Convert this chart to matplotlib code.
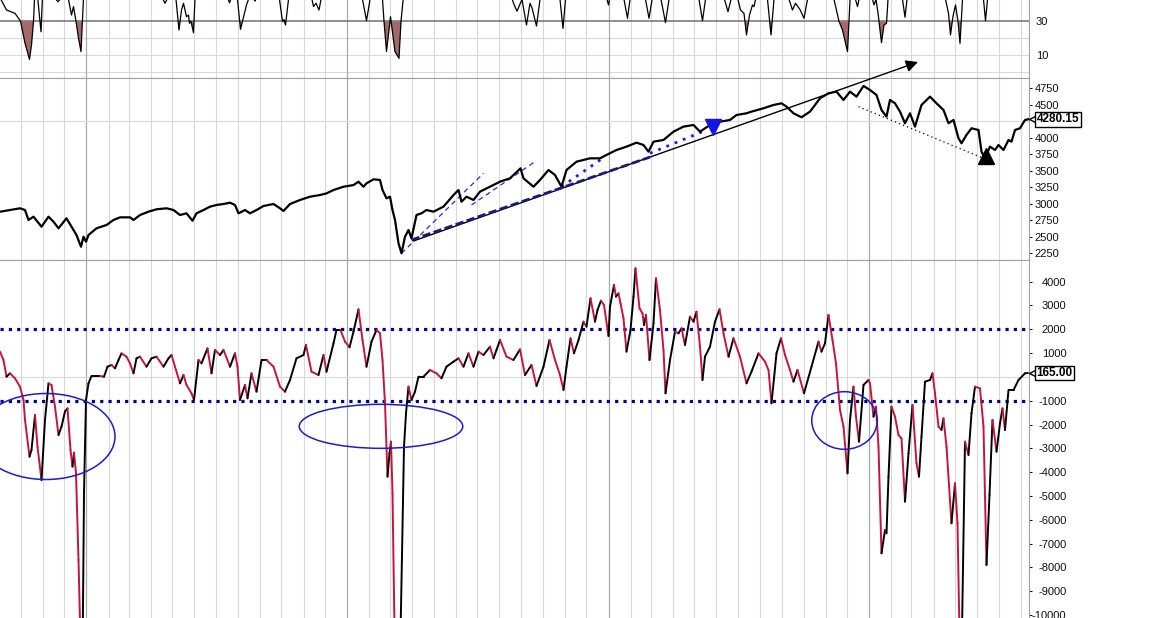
import numpy as np
import pandas as pd
import matplotlib
matplotlib.use("Agg")
import matplotlib.pyplot as plt
from matplotlib.collections import LineCollection
from matplotlib.patches import Ellipse

plt.rcParams['font.family'] = ['Liberation Sans', 'DejaVu Sans']

# x axis: weeks since 2018-09-02 (S&P 500, Sep 2018 - Aug 12 2022)
start_date = pd.Timestamp('2018-09-02')

# ---- top panel: oscillator with 30 line (values above ~43 run off the panel)
top_x = [0.0, 1.3, 3.0, 3.7, 4.1, 5.0, 5.9, 6.3, 6.7, 7.0, 7.5, 8.2, 8.5, 10.0, 11.2, 11.6, 12.0,
         12.8, 13.7, 14.3, 14.7, 15.2, 15.7, 16.2, 16.7, 20.0, 26.0, 32.0, 32.6, 33.0, 33.4, 34.4,
         35.2, 35.8, 36.3, 36.7, 37.3, 37.7, 37.9, 38.2, 38.7, 39.0, 42.0, 45.6, 45.9, 46.2, 47.5,
         48.1, 48.9, 49.3, 49.7, 50.4, 51.0, 51.4, 53.0, 55.9, 56.5, 56.8, 57.1, 57.7, 60.0, 62.4,
         62.7, 63.2, 63.8, 64.2, 68.0, 72.5, 73.3, 74.0, 75.2, 76.5, 76.8, 77.3, 78.1, 79.0, 79.8,
         80.2, 80.7, 86.0, 94.0, 101.0, 102.8, 103.4, 104.4, 105.3, 106.0, 106.4, 107.3, 108.0,
         110.0, 112.0, 112.6, 113.1, 116.0, 121.4, 121.7, 121.9, 124.8, 125.5, 126.0, 127.6, 129.1,
         129.8, 130.4, 131.4, 132.2, 133.1, 133.8, 137.0, 139.8, 140.5, 141.1, 143.0, 144.9, 145.6,
         146.2, 146.9, 147.6, 148.1, 148.8, 149.3, 149.9, 150.5, 150.8, 151.1, 152.4, 153.5, 154.2,
         154.8, 157.0, 157.8, 158.5, 159.1, 160.0, 160.8, 161.5, 164.0, 166.8, 167.8, 168.5, 169.5,
         170.0, 170.5, 171.1, 171.5, 171.8, 173.0, 174.5, 174.8, 175.2, 175.6, 176.3, 176.8, 177.3,
         177.6, 179.2, 180.5, 181.0, 181.4, 185.0, 189.1, 189.7, 190.1, 190.6, 191.1, 191.6, 192.0,
         192.5, 195.0, 196.7, 197.1, 197.5, 200.0, 205.6]
top_v = [44, 36.7, 34.7, 31.8, 30, 17, 7.4, 16, 30, 50, 45, 23.8, 45, 55, 43, 41.6, 43,
         55, 43, 33.7, 38.7, 30, 20, 12.0, 44, 60, 58, 50, 43, 40.7, 43, 50,
         43, 24.8, 36.7, 40.7, 32.7, 33.7, 28.8, 30, 23.2, 44, 55, 43.5, 41, 43.5, 43,
         25.2, 34.7, 39.7, 43, 48, 42, 48, 55, 43, 29.8, 31, 27.8, 43, 55, 43,
         38.7, 40.7, 36.7, 43, 55, 43, 30.4, 43, 55, 43, 30, 12.0, 32.7, 12, 8.0,
         30, 45, 58, 58, 55, 40, 36, 43, 27.8, 40.7, 38, 27.2, 43,
         55, 43, 25.8, 43, 55, 43, 39.7, 43, 43, 31.8, 43, 50, 43,
         31.8, 43, 50, 43, 29.2, 43, 55, 43, 30.4, 43, 55, 43, 35.7,
         43, 50, 43, 36.7, 34.7, 21.9, 33.7, 39.7, 38.7, 43, 50, 43, 21.9,
         43, 50, 43, 36.7, 40.7, 37, 31.8, 43, 55, 43, 30, 24.8, 12.0,
         43, 50, 43, 38.7, 43, 50, 43, 39.7, 43, 35, 17.3, 27.8, 28.8,
         43, 50, 43, 32.4, 43, 55, 43, 34.7, 21.9, 33, 39.7, 30, 16.9,
         43, 55, 43, 30.4, 43, 55, 55]

# ---- middle panel: price
price_x = [0.0, 2.0, 4.0, 5.0, 5.7, 6.7, 8.3, 9.7, 10.7, 11.7, 13.3, 14.3, 15.3, 16.2, 16.7, 17.2,
           17.7, 19.3, 21.3, 22.7, 24.0, 26.0, 26.7, 28.0, 29.7, 31.3, 33.3, 34.7, 36.0, 37.3,
           38.5, 39.3, 40.7, 42.0, 43.3, 44.7, 46.0, 47.0, 47.7, 49.0, 50.0, 51.3, 52.7, 54.7,
           56.0, 56.7, 58.0, 60.0, 62.0, 64.0, 65.3, 66.7, 68.7, 70.7, 71.7, 72.7, 73.3, 74.7,
           76.0, 76.5, 77.3, 78.0, 78.5, 79.0, 79.7, 80.3, 81.0, 81.7, 82.3, 83.3, 84.3, 85.3,
           86.7, 88.7, 90.7, 91.7, 92.3, 93.3, 94.7, 96.0, 98.0, 100.0, 102.0, 104.1, 104.7,
           106.7, 108.0, 109.7, 111.0, 112.3, 113.3, 115.3, 118.0, 120.0, 121.3, 123.3, 125.3,
           127.3, 128.7, 129.7, 130.7, 132.7, 134.7, 136.7, 138.7, 140.0, 142.0, 144.0, 146.0,
           147.3, 149.3, 150.3, 152.7, 154.7, 156.3, 157.3, 158.7, 160.3, 162.0, 164.0, 165.7,
           167.3, 168.7, 170.0, 171.3, 172.7, 174.0, 175.3, 176.3, 177.3, 178.0, 179.0, 180.0,
           181.0, 182.0, 183.0, 184.3, 186.0, 187.3, 188.7, 189.7, 190.7, 191.7, 192.3, 193.3,
           194.3, 195.7, 196.3, 197.0, 198.0, 199.0, 199.7, 200.7, 201.7, 202.3, 203.0, 204.0,
           205.0, 205.6]
price_v = [2880, 2906, 2932, 2906, 2755, 2805, 2653, 2805, 2729, 2629, 2780, 2655, 2527, 2350, 2502, 2426,
           2527, 2629, 2679, 2755, 2795, 2795, 2755, 2830, 2881, 2917, 2932, 2906, 2830, 2856,
           2744, 2856, 2906, 2957, 2982, 2997, 3017, 2982, 2856, 2906, 2856, 2906, 2967, 2997,
           2932, 2891, 2997, 3058, 3108, 3133, 3158, 3209, 3259, 3284, 3335, 3259, 3310, 3371,
           3361, 3209, 3083, 3108, 2906, 2755, 2402, 2250, 2502, 2603, 2477, 2830, 2856, 2906,
           2881, 2957, 3133, 3209, 3032, 3108, 3058, 3184, 3259, 3335, 3386, 3538, 3386,
           3259, 3361, 3512, 3436, 3259, 3512, 3638, 3689, 3689, 3740, 3815, 3866,
           3926, 3891, 3790, 3941, 3967, 4093, 4169, 4194, 4093, 4194, 4244, 4270,
           4345, 4371, 4396, 4447, 4497, 4522, 4472, 4371, 4311, 4396, 4598, 4674,
           4699, 4573, 4699, 4623, 4785, 4724, 4648, 4421, 4320, 4573, 4522, 4396,
           4220, 4371, 4169, 4497, 4623, 4522, 4421, 4220, 4270, 3993, 3917, 4043,
           4144, 4118, 3790, 3689, 3866, 3815, 3891, 3815, 3967, 3941, 4118, 4144,
           4270, 4280.15]
price_last = 4280.15
price_ticks = [2250, 2500, 2750, 3000, 3250, 3500, 3750, 4000, 4500, 4750]

# trend lines drawn on the price panel: (x0, y0, x1, y1)
main_arrow = (82.7, 2437, 183.6, 5148)
support_dash = (82.3, 2452, 130.0, 3708)
blue_dashed = [(80.3, 2250, 96.7, 3462), (94.3, 2982, 107.0, 3638)]
blue_dotted = [(112.3, 3259, 121.0, 3714), (130.0, 3765, 141.3, 4118)]
black_dotted = (171.7, 4471, 196.7, 3689)
blue_marker = (142.6, 4164)
black_marker = (197.2, 3724)

# ---- bottom panel: breadth oscillator
osc_x = [0.0, 0.7, 1.3, 2.0, 3.0, 4.0, 4.7, 5.0, 5.9, 6.3, 7.0, 7.5, 8.3, 9.0, 9.7, 10.3, 11.0, 11.7,
         12.3, 13.0, 13.5, 14.1, 14.5, 14.8, 15.2, 15.7, 16.2, 16.5, 16.8, 17.2, 17.7, 18.3, 20.0,
         20.8, 21.5, 22.3, 23.0, 23.7, 24.3, 25.3, 26.0, 26.7, 27.3, 28.0, 29.3, 30.3, 31.3, 32.7,
         33.7, 34.3, 35.0, 36.0, 36.7, 37.3, 38.3, 38.8, 39.7, 40.3, 41.5, 42.3, 43.0, 44.0, 44.7,
         46.0, 47.0, 47.5, 48.0, 49.0, 49.5, 50.3, 51.3, 52.3, 53.3, 54.7, 56.0, 57.0, 58.0, 59.3,
         60.7, 61.2, 62.3, 63.7, 64.7, 65.3, 66.7, 67.3, 68.1, 69.0, 69.9, 70.7, 71.7, 72.5, 73.3,
         74.3, 75.3, 76.0, 76.5, 77.0, 77.5, 77.9, 78.2, 78.5, 79.0, 80.0, 80.8, 81.2, 81.7, 82.3,
         83.0, 83.7, 84.7, 86.0, 87.3, 88.3, 89.3, 90.7, 91.7, 92.7, 93.7, 94.7, 95.7, 96.7, 98.0,
         98.7, 99.3, 100.0, 101.3, 102.7, 104.0, 105.0, 106.3, 107.3, 108.7, 109.9, 111.0, 112.0,
         112.7, 113.3, 114.1, 114.8, 115.7, 116.7, 117.3, 118.1, 119.0, 119.5, 120.2, 120.8, 121.7,
         122.0, 122.8, 123.2, 123.7, 124.1, 124.7, 125.3, 126.1, 126.7, 127.1, 127.9, 128.5, 128.8,
         129.2, 129.9, 130.7, 131.2, 132.0, 132.7, 133.1, 134.0, 135.0, 135.7, 136.3, 137.0, 138.0,
         138.7, 139.3, 140.0, 140.5, 141.0, 142.0, 143.0, 143.9, 144.7, 145.7, 146.7, 148.0, 149.3,
         150.3, 151.7, 153.0, 153.7, 154.3, 155.3, 156.2, 157.0, 158.0, 158.7, 159.5, 160.8, 162.3,
         163.7, 164.3, 165.0, 165.7, 166.5, 167.2, 168.0, 168.7, 169.5, 170.0, 170.7, 171.2, 171.8,
         172.7, 173.7, 174.0, 174.7, 175.2, 175.7, 176.3, 177.0, 177.3, 177.7, 178.3, 179.0, 179.7,
         180.3, 181.0, 181.7, 182.5, 183.3, 183.8, 184.3, 185.0, 186.0, 186.5, 187.0, 187.7, 188.3,
         188.7, 189.3, 190.3, 191.0, 191.5, 192.0, 192.3, 193.0, 193.7, 194.3, 195.0, 196.0, 196.7,
         197.3, 197.9, 198.5, 199.3, 200.0, 200.5, 201.0, 201.7, 202.7, 203.7, 205.0, 205.6]
osc_v = [1061, 711, 11, 151, -59, -409, -969, -1809, -3349, -3069, -1599, -2929, -4329, -1809, -269, -339, -1249, -2439,
         -2089, -1450, -1319, -3069, -3769, -3181, -4049, -7689, -12000, -12000, -4889, -969, -269, 39, 39,
         11, 431, 501, 361, 711, 991, 851, 571, 151, 781, 851, 431, 781, 851, 431,
         781, 921, 431, -269, 81, -339, -689, -969, 711, 571, 1201, 151, 1131, 921, 1131,
         431, 991, 431, -969, -339, -899, 151, -619, 711, 711, 431, -409, -619, -129, 781,
         921, 1341, 221, 81, 921, 221, 1411, 1971, 1971, 1481, 1243, 1901, 2839, 1551, 431,
         1481, 1971, 1831, 711, -1109, -4189, -3209, -2719, -4889, -12000, -12000, -2929, -1529, -409, -969,
         -619, 11, 11, 291, 151, -59, 431, 641, 781, 431, 991, 431, 1061, 921, 1271,
         781, 1131, 1551, 851, 711, 1159, 81, 501, -381, 431, 1551, 711, 81,
         -549, 431, 1621, 991, 1551, 2321, 2111, 3301, 2321, 2811, 3203, 3021, 1719,
         2951, 3861, 3371, 3511, 3091, 2461, 1061, 1971, 3371, 4561, 2881, 2671, 2181,
         2601, 711, 2251, 4141, 2811, 1131, -689, 711, 1901, 1831, 2041, 1341, 2531,
         2321, 2741, 1271, -129, 851, 1271, 2321, 2839, 1831, 851, 1621, 851, -269,
         221, 991, 641, 291, -1109, 991, 1621, 921, 291, -199, 291, -689, 431,
         1481, 1061, 1411, 2601, 1551, 571, -1389, -2089, -4049, -1809, -409, -1669, -2719,
         -339, -129, -269, -1669, -1249, -2929, -7409, -6429, -6569, -4189, -1249, -1669, -2439,
         -2579, -5239, -3209, -1179, -3629, -4189, -2509, -199, -129, 151, -689, -2089, -2229,
         -1739, -2929, -6149, -4469, -6149, -12000, -12000, -2719, -3279, -1529, -409, -479, -2089,
         -7899, -4959, -1809, -3139, -1949, -1319, -2229, -549, -549, -129, 151, 165]
osc_last = 165.00
osc_levels = [2000, -1000]
osc_ticks = [4000, 3000, 2000, 1000, -1000, -2000, -3000, -4000, -5000, -6000, -7000, -8000, -9000, -10000]
# circled zones: (centre x, centre y, width, height)
osc_circles = [(9.2, -2502, 27.6, 3612), (76.2, -2075, 32.7, 1848), (168.9, -1830, 13.1, 2419)]

# ---------------------------------------------------------------------------
GRID = '#d9d9d9'
YEAR = '#a9a9a9'
EDGE = '#a0a0a0'

fig = plt.figure(figsize=(11.6, 6.18), dpi=100)
W = 1029 / 1160
ax_top = fig.add_axes([0, 0.8733, W, 0.1267])
ax_mid = fig.add_axes([0, 0.5793, W, 0.2940])
ax_bot = fig.add_axes([0, 0.0, W, 0.5793])

months = pd.date_range('2018-10-01', '2022-08-01', freq='MS')
month_pos = [(d - start_date).days / 7.0 for d in months]
year_pos = [(d - start_date).days / 7.0 for d in months if d.month == 1]

for ax in (ax_top, ax_mid, ax_bot):
    ax.set_xlim(0, 1029 / 5)
    ax.set_xticks(year_pos)
    ax.set_xticks(month_pos, minor=True)
    ax.grid(axis='x', which='minor', color=GRID, lw=0.8, zorder=0)
    ax.grid(axis='x', which='major', color=YEAR, lw=0.9, zorder=0)
    ax.tick_params(axis='x', which='both', length=0, labelbottom=False)
    ax.yaxis.tick_right()
    ax.tick_params(axis='y', which='both', labelsize=8, colors='#111111', length=2)
    ax.spines['left'].set_visible(False)
    for s in ('top', 'bottom', 'right'):
        ax.spines[s].set_color(EDGE)
    ax.set_axisbelow(True)

# top panel
ax_top.set_ylim(-3.83, 42.64)
ax_top.spines['top'].set_visible(False)
for lv in (0, 10, 20):
    ax_top.axhline(lv, color=GRID, lw=0.8, zorder=0)
ax_top.axhline(30, color='#707070', lw=1.1, zorder=1)
ax_top.fill_between(top_x, top_v, 30, where=np.array(top_v) < 30, interpolate=True,
                    color='#a46a6a', lw=0, zorder=2)
ax_top.plot(top_x, top_v, color='black', lw=0.9, zorder=3)
ax_top.set_yticks([10, 30])
ax_top.tick_params(axis='y', length=0, pad=5)

# middle panel
ax_mid.set_ylim(2149, 4901)
ax_mid.set_yticks(np.arange(2250, 4751, 250), minor=True)
ax_mid.set_yticks(price_ticks)
ax_mid.grid(axis='y', which='minor', color=GRID, lw=0.8)
ax_mid.tick_params(axis='y', which='minor', length=0)
ax_mid.tick_params(axis='y', pad=2)
ax_mid.plot(price_x, price_v, color='black', lw=1.6, zorder=4)

for x0, y0, x1, y1 in blue_dashed:
    ax_mid.plot([x0, x1], [y0, y1], color='#2a2ae0', lw=0.9, ls=(0, (4, 3)), zorder=3)
for x0, y0, x1, y1 in blue_dotted:
    ax_mid.plot([x0, x1], [y0, y1], color='#1a1aff', lw=2.0, ls=(0, (1, 2.2)), zorder=3)
x0, y0, x1, y1 = black_dotted
ax_mid.plot([x0, x1], [y0, y1], color='black', lw=0.9, ls=(0, (1, 2.5)), zorder=3)
x0, y0, x1, y1 = main_arrow
arr = ax_mid.annotate('', xy=(x1, y1), xytext=(x0, y0), annotation_clip=False,
                      arrowprops=dict(arrowstyle='-|>', color='black', lw=1.0,
                                      mutation_scale=18, shrinkA=0, shrinkB=0), zorder=5)
arr.arrow_patch.set_clip_on(False)
x0, y0, x1, y1 = support_dash
ax_mid.plot([x0, x1], [y0, y1], color='#1a1a7a', lw=2.0, ls=(0, (3, 1.2)), zorder=5)
ax_mid.plot(*blue_marker, marker='v', ms=11, color='#1414e6', zorder=6)
ax_mid.plot(*black_marker, marker='^', ms=11, color='black', zorder=6)

# bottom panel
ax_bot.set_ylim(-10125, 4911)
ax_bot.spines['bottom'].set_visible(False)
ax_bot.set_yticks(np.arange(-10000, 4001, 1000), minor=True)
ax_bot.set_yticks(osc_ticks)
ax_bot.set_yticklabels([str(t) for t in osc_ticks])
for lbl in ax_bot.get_yticklabels():
    lbl.set_horizontalalignment('right')
ax_bot.tick_params(axis='y', pad=25)
ax_bot.tick_params(axis='y', which='minor', length=0)
ax_bot.grid(axis='y', which='minor', color=GRID, lw=0.8)
for lv in osc_levels:
    ax_bot.axhline(lv, color='#00008b', lw=2.3, ls=(0, (1, 1.6)), zorder=2)

pts = np.column_stack([osc_x, osc_v])
segs = np.stack([pts[:-1], pts[1:]], axis=1)
cols = ['#c8143c' if b < a else 'black' for a, b in zip(osc_v[:-1], osc_v[1:])]
ax_bot.add_collection(LineCollection(segs, colors=cols, linewidths=1.4,
                                     capstyle='round', joinstyle='round', zorder=4))
for cx, cy, w, h in osc_circles:
    ax_bot.add_patch(Ellipse((cx, cy), w, h, fill=False, ec='#1c1cc8', lw=1.1, zorder=5))


def value_tag(ax, value, text):
    tr = ax.get_yaxis_transform()
    ax.plot([1.0045], [value], marker='<', ms=7, mfc='white', mec='black', mew=1,
            transform=tr, clip_on=False, zorder=8)
    ax.text(1.0075, value, text, transform=tr, ha='left', va='center', fontsize=8.5,
            fontweight='bold', clip_on=False, zorder=9,
            bbox=dict(boxstyle='square,pad=0.12', fc='white', ec='black', lw=1))


value_tag(ax_mid, price_last, f'{price_last:.2f}')
value_tag(ax_bot, osc_last, f'{osc_last:.2f}')

fig.savefig('out.png', dpi=100)
